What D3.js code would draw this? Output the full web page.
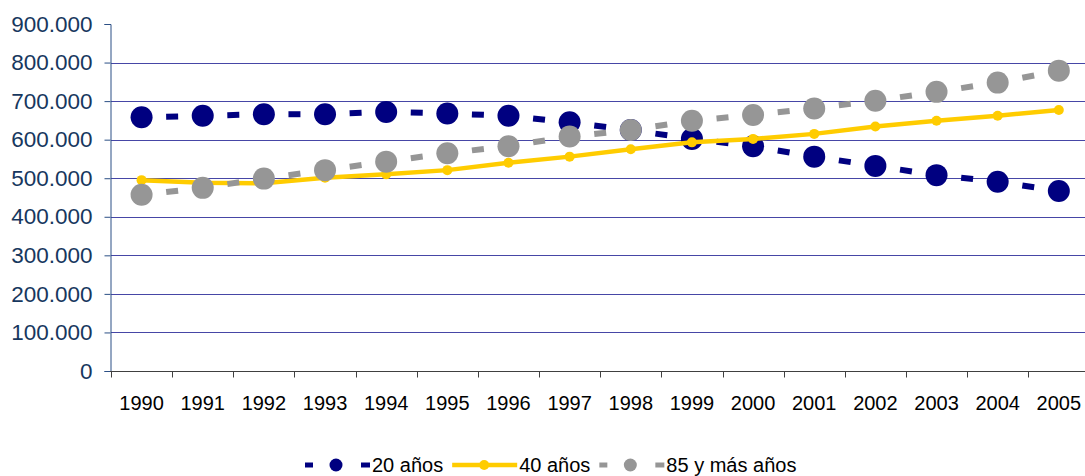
<!DOCTYPE html>
<html><head><meta charset="utf-8">
<script src="https://cdn.jsdelivr.net/npm/d3@7"></script>
<style>body{margin:0;background:#fff}svg{display:block}text{font-family:"Liberation Sans",Arial,sans-serif}</style>
</head><body><svg id="c" width="1085" height="476"></svg>
<script>
const years = ["1990","1991","1992","1993","1994","1995","1996","1997","1998","1999","2000","2001","2002","2003","2004","2005"];
const s20 = [658000,662000,666000,666000,672000,668000,662000,645000,625000,602000,583000,556000,532000,508000,491000,467000];
const s40 = [495000,488000,487000,501000,510000,521000,540000,556000,575000,593000,602000,615000,634000,649000,662000,677000];
const s85 = [457000,475000,499000,521000,543000,565000,583000,608000,625000,649000,664000,681000,701000,724000,748000,779000];
const yTicks = [0,100000,200000,300000,400000,500000,600000,700000,800000,900000];
const seriesNames = ["20 años","40 años","85 y más años"];

const svg = d3.select("#c");
const x = d3.scaleBand().domain(years).range([111, 1089.4]);
const y = d3.scaleLinear().domain([0, 900000]).range([371, 24]);
const fmt = d3.formatLocale({decimal:",", thousands:".", grouping:[3], currency:["",""]}).format(",");

// gridlines
svg.append("g").selectAll("line").data(yTicks.filter(d => d > 0 && d < 900000)).join("line")
  .attr("x1", 111).attr("x2", 1089).attr("y1", d => Math.round(y(d)) + 0.5).attr("y2", d => Math.round(y(d)) + 0.5)
  .attr("stroke", "#4646a6").attr("stroke-width", 1);

// y axis
const ya = svg.append("g").attr("transform", "translate(110.5,0)")
  .call(d3.axisLeft(y).tickValues(yTicks).tickFormat(fmt).tickSize(6).tickPadding(12));
ya.select(".domain").attr("stroke", "#2b4f85");
ya.selectAll(".tick line").attr("stroke", "#2b4f85");
ya.selectAll("text").attr("fill", "#17375e").style("font-size", "22.5px");

// x axis
const xa = svg.append("g").attr("transform", "translate(0,371.5)");
xa.append("line").attr("x1", 110).attr("x2", 1090).attr("stroke", "#404040");
const bounds = years.map(d => x(d)).concat([x.range()[1]]);
xa.selectAll("line.t").data(bounds).join("line").attr("class","t")
  .attr("x1", d => Math.round(d) + 0.5).attr("x2", d => Math.round(d) + 0.5).attr("y1", 0).attr("y2", 6).attr("stroke", "#404040");
xa.selectAll("text").data(years).join("text")
  .attr("x", d => x(d) + x.bandwidth() / 2).attr("y", 38).attr("text-anchor", "middle")
  .attr("fill", "#000").style("font-size", "20px").text(d => d);

const cx = (d, i) => x(years[i]) + x.bandwidth() / 2;

function midDashes(g, vals, color, len, w) {
  const pts = vals.map((v, i) => [cx(v, i), y(v)]);
  const segs = d3.pairs(pts);
  g.selectAll("line.d").data(segs).join("line").attr("class","d")
    .each(function([a, b]) {
      const mx = (a[0] + b[0]) / 2, my = (a[1] + b[1]) / 2;
      const dx = b[0] - a[0], dy = b[1] - a[1], L = Math.hypot(dx, dy);
      const ux = dx / L * len / 2, uy = dy / L * len / 2;
      d3.select(this).attr("x1", mx - ux).attr("y1", my - uy).attr("x2", mx + ux).attr("y2", my + uy);
    })
    .attr("stroke", color).attr("stroke-width", w);
}

// series 20
const g20 = svg.append("g");
midDashes(g20, s20, "#000080", 12, 6);
g20.selectAll("circle").data(s20).join("circle").attr("cx", cx).attr("cy", d => y(d)).attr("r", 11).attr("fill", "#000080");

// series 40
const g40 = svg.append("g");
g40.append("path").datum(s40).attr("fill", "none").attr("stroke", "#ffcc00").attr("stroke-width", 4.5)
  .attr("d", d3.line().x(cx).y(d => y(d)));
g40.selectAll("circle").data(s40).join("circle").attr("cx", cx).attr("cy", d => y(d)).attr("r", 5).attr("fill", "#ffcc00");

// series 85
const g85 = svg.append("g");
midDashes(g85, s85, "#969696", 12, 6);
g85.selectAll("circle").data(s85).join("circle").attr("cx", cx).attr("cy", d => y(d)).attr("r", 11).attr("fill", "#969696");

// legend
const leg = svg.append("g").attr("transform", "translate(0,465)");
const colors = ["#000080", "#ffcc00", "#969696"];
let lx = 305;
seriesNames.forEach((name, i) => {
  const g = leg.append("g").attr("transform", `translate(${lx},0)`);
  if (i === 1) {
    g.append("line").attr("x1", 0).attr("x2", 65).attr("stroke", colors[i]).attr("stroke-width", 4.5);
    g.append("circle").attr("cx", 32).attr("r", 5).attr("fill", colors[i]);
  } else {
    g.append("line").attr("x1", 0).attr("x2", 8).attr("stroke", colors[i]).attr("stroke-width", 5);
    g.append("line").attr("x1", 56).attr("x2", 65).attr("stroke", colors[i]).attr("stroke-width", 5);
    g.append("circle").attr("cx", 31).attr("r", 6.5).attr("fill", colors[i]);
  }
  const t = g.append("text").attr("x", 67).attr("y", 7).style("font-size", "20px").attr("fill", "#000").text(name);
  lx += 67 + t.node().getComputedTextLength() + 9;
});
</script></body></html>
